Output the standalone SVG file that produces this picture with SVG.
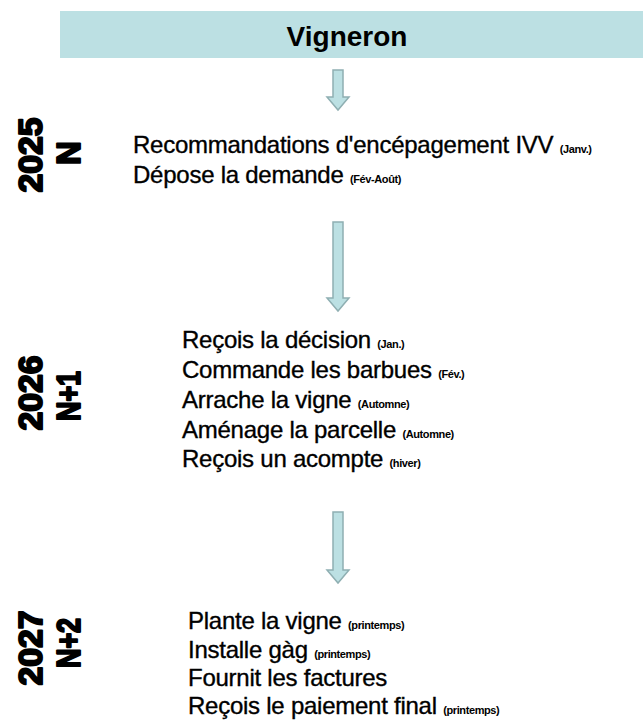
<svg xmlns="http://www.w3.org/2000/svg" width="643" height="720" viewBox="0 0 643 720">
<style>
.t{font-family:"Liberation Sans",Arial,sans-serif;font-size:24px;fill:#000;stroke:#000;stroke-width:0.35;letter-spacing:-0.25px}
.s{font-size:11px;font-weight:bold;letter-spacing:-0.4px;stroke-width:0}
.yr{font-family:"Liberation Sans",Arial,sans-serif;font-size:33px;font-weight:bold;fill:#000;stroke:#000;stroke-width:2;stroke-linejoin:round;text-anchor:middle}
.ar{fill:#BCE0E3;stroke:#8FAFB2;stroke-width:1.5}
</style>
<g id="banner">
<rect x="60" y="11" width="583" height="47" fill="#BCE0E3"/>
<text x="347" y="46" font-family="Liberation Sans,Arial,sans-serif" font-size="28" font-weight="bold" text-anchor="middle">Vigneron</text>
</g>
<g id="connectors">
<path class="ar" d="M333,70 h10 v27 h6 l-11,13 l-11,-13 h6 z"/>
<path class="ar" d="M333,222 h10 v76 h6 l-11,13 l-11,-13 h6 z"/>
<path class="ar" d="M333,512 h10 v58 h6 l-11,13 l-11,-13 h6 z"/>
</g>
<g id="year-2025">
<text class="yr" transform="translate(42,155) rotate(-90)" textLength="75" lengthAdjust="spacingAndGlyphs">2025</text>
<text class="yr" transform="translate(80,153) rotate(-90)">N</text>
</g>
<g id="step-2025">
<text class="t" x="133" y="153">Recommandations d'encépagement IVV <tspan class="s">(Janv.)</tspan></text>
<text class="t" x="133" y="183">Dépose la demande <tspan class="s">(Fév-Août)</tspan></text>
</g>
<g id="year-2026">
<text class="yr" transform="translate(42,393) rotate(-90)" textLength="75" lengthAdjust="spacingAndGlyphs">2026</text>
<text class="yr" transform="translate(80,396) rotate(-90)" textLength="50" lengthAdjust="spacingAndGlyphs">N+1</text>
</g>
<g id="step-2026">
<text class="t" x="182" y="348">Reçois la décision <tspan class="s">(Jan.)</tspan></text>
<text class="t" x="182" y="378">Commande les barbues <tspan class="s">(Fév.)</tspan></text>
<text class="t" x="182" y="408">Arrache la vigne <tspan class="s">(Automne)</tspan></text>
<text class="t" x="182" y="438">Aménage la parcelle <tspan class="s">(Automne)</tspan></text>
<text class="t" x="182" y="467">Reçois un acompte <tspan class="s">(hiver)</tspan></text>
</g>
<g id="year-2027">
<text class="yr" transform="translate(42,648) rotate(-90)" textLength="75" lengthAdjust="spacingAndGlyphs">2027</text>
<text class="yr" transform="translate(80,643) rotate(-90)" textLength="50" lengthAdjust="spacingAndGlyphs">N+2</text>
</g>
<g id="step-2027">
<text class="t" x="188" y="629">Plante la vigne <tspan class="s">(printemps)</tspan></text>
<text class="t" x="188" y="658">Installe gàg <tspan class="s">(printemps)</tspan></text>
<text class="t" x="188" y="686">Fournit les factures</text>
<text class="t" x="188" y="714">Reçois le paiement final <tspan class="s">(printemps)</tspan></text>
</g>
</svg>
